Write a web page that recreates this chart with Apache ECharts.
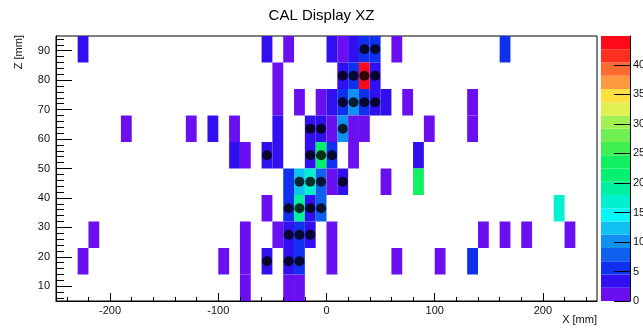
<!DOCTYPE html>
<html>
<head>
<meta charset="utf-8">
<script src="https://cdn.jsdelivr.net/npm/echarts@6/dist/echarts.min.js"></script>
<style>
	html, body { margin: 0; padding: 0; background: #fff; }
	#chart { width: 643px; height: 329px; }
</style>
</head>
<body>
<div id="chart"></div>
<script>
// histogram binning (mm)
const binW = 10;
const binH = 9;
const zMax = 44.9;

// lower edges of the filled bins and their content
const cellX = [
	-230, -60, -40, 0, 10, 20, 30, 40, 60, 160,
	-50, 10, 20, 30, 40,
	-50, -30, -10, 0, 10, 20, 30, 40, 50, 70, 130,
	-190, -130, -110, -90, -50, -20, -10, 0, 10, 20, 30, 90, 130,
	-90, -80, -60, -50, -20, -10, 0, 20, 80,
	-40, -30, -20, -10, 0, 10, 50, 80,
	-60, -40, -30, -20, -10, 210,
	-220, -80, -50, -40, -30, -20, 0, 140, 160, 180, 220,
	-230, -100, -80, -60, -40, -30, 0, 60, 100, 130,
	-80, -40, -30
];
const cellZ = [
	86, 86, 86, 86, 86, 86, 86, 86, 86, 86,
	77, 77, 77, 77, 77,
	68, 68, 68, 68, 68, 68, 68, 68, 68, 68, 68,
	59, 59, 59, 59, 59, 59, 59, 59, 59, 59, 59, 59, 59,
	50, 50, 50, 50, 50, 50, 50, 50, 50,
	41, 41, 41, 41, 41, 41, 41, 41,
	32, 32, 32, 32, 32, 32,
	23, 23, 23, 23, 23, 23, 23, 23, 23, 23, 23,
	14, 14, 14, 14, 14, 14, 14, 14, 14, 14,
	5, 5, 5
];
const cellVal = [
	3, 3, 1, 3, 1, 3, 5.5, 5.5, 1, 5.5,
	1, 3, 5.5, 44.9, 3,
	1, 1, 1, 3, 5.5, 10, 5.5, 3, 3, 1, 1,
	1, 1, 3, 1, 3, 3, 3, 1, 10, 1, 1, 1, 1,
	3, 1, 3, 3, 3, 21, 5.5, 1, 3,
	5.5, 12.5, 17, 7.5, 1, 3, 1, 23,
	1, 5.5, 19, 3, 7, 16,
	1, 1, 1, 3, 5.5, 3, 1, 1, 1, 1, 1,
	1, 1, 1, 3, 4, 6, 1, 1, 1, 5.5,
	1, 1, 1
];

// reconstructed hits (black markers)
const hitX = [
	35, 45,
	15, 25, 35, 45,
	15, 25, 35, 45,
	-15, -5, 15,
	-55, -15, -5, 5,
	-25, -15, -5, 15,
	-35, -25, -15, -5,
	-35, -25, -15,
	-55, -35, -25
];
const hitZ = [
	90.5, 90.5,
	81.5, 81.5, 81.5, 81.5,
	72.5, 72.5, 72.5, 72.5,
	63.5, 63.5, 63.5,
	54.5, 54.5, 54.5, 54.5,
	45.5, 45.5, 45.5, 45.5,
	36.5, 36.5, 36.5, 36.5,
	27.5, 27.5, 27.5,
	18.5, 18.5, 18.5
];

// ticks
const xMajor = [-200, -100, 0, 100, 200];
const xMinor = [-240, -220, -180, -160, -140, -120, -80, -60, -40, -20, 20, 40, 60, 80, 120, 140, 160, 180, 220, 240];
const zMajor = [10, 20, 30, 40, 50, 60, 70, 80, 90];
const zMinor = [6, 8, 12, 14, 16, 18, 22, 24, 26, 28, 32, 34, 36, 38, 42, 44, 46, 48, 52, 54, 56, 58,
	62, 64, 66, 68, 72, 74, 76, 78, 82, 84, 86, 88, 92, 94];
const palTicks = [0, 5, 10, 15, 20, 25, 30, 35, 40];

// colour palette, 20 contours, bottom to top
const palette = [
	'#6a10f0', '#3010f0', '#1030f0', '#1060f0', '#1090f0', '#10c0f0', '#00f8f8', '#00f0d0', '#00f0a0', '#00f070',
	'#10f060', '#40f050', '#70f050', '#a0f050', '#e0f050', '#ffe040', '#ff9a40', '#ff6a30', '#ff3020', '#ff0a1a'
];

const font = 'Liberation Sans, Arial, Helvetica, sans-serif';
const step = zMax / palette.length;

let pieces = palette.map((c, k) => {
	return k === palette.length - 1
		? { gte: k * step, lte: zMax, color: c }
		: { gte: k * step, lt: (k + 1) * step, color: c };
});
let bands = palette.map((c, k) => [k * step, (k + 1) * step, k]);

let labelStyle = { fontFamily: font, fontSize: 11, color: '#111' };
let black = { color: '#000', width: 1 };

// one axis with major ticks + labels, one with minor ticks only
const valueAxis = (grid, min, max, pos, ticks, len, labels, margin) => ({
	gridIndex: grid, type: 'value', min: min, max: max, position: pos, z: 10,
	axisLine: { show: labels, onZero: false, lineStyle: black },
	axisTick: { show: true, inside: true, length: len, customValues: ticks, lineStyle: black },
	axisLabel: labels ? Object.assign({ show: true, customValues: ticks, margin: margin }, labelStyle) : { show: false },
	minorTick: { show: false },
	splitLine: { show: false }
});

const chart = echarts.init(document.getElementById('chart'));

chart.setOption({
	animation: false,
	backgroundColor: '#fff',
	title: {
		text: 'CAL Display XZ',
		left: 'center',
		top: 3,
		textStyle: { fontFamily: font, fontSize: 15, fontWeight: 'normal', color: '#000' }
	},
	grid: [
		{ left: 56, right: 46, top: 36, bottom: 28, show: true, borderColor: '#000', borderWidth: 1, outerBoundsMode: 'none' },
		{ left: 601, width: 29, top: 36, bottom: 28, outerBoundsMode: 'none' }
	],
	visualMap: {
		type: 'piecewise',
		show: false,
		seriesIndex: 0,
		dimension: 2,
		pieces: pieces
	},
	xAxis: [
		valueAxis(0, -250, 250, 'bottom', xMajor, 8, true, 4),
		valueAxis(0, -250, 250, 'bottom', xMinor, 4, false, 0),
		{ gridIndex: 1, type: 'value', min: 0, max: 1, show: false }
	],
	yAxis: [
		valueAxis(0, 5, 95, 'left', zMajor, 16, true, 6),
		valueAxis(0, 5, 95, 'left', zMinor, 8, false, 0),
		valueAxis(1, 0, zMax, 'right', palTicks, 16, true, 3)
	],
	graphic: [
		{
			type: 'text', x: 19, y: 35, rotation: Math.PI / 2,
			style: { text: 'Z [mm]', fontFamily: font, fontSize: 11, fill: '#111', textAlign: 'right', textVerticalAlign: 'middle' }
		},
		{
			type: 'text', x: 597, y: 320,
			style: { text: 'X [mm]', fontFamily: font, fontSize: 11, fill: '#111', textAlign: 'right', textVerticalAlign: 'middle' }
		}
	],
	series: [
		{
			type: 'custom',
			xAxisIndex: 0, yAxisIndex: 0,
			data: cellX.map((x, i) => [x, cellZ[i], cellVal[i]]),
			encode: { x: 0, y: 1 },
			renderItem: function (params, api) {
				let p0 = api.coord([api.value(0), api.value(1) + binH]);
				let p1 = api.coord([api.value(0) + binW, api.value(1)]);
				return {
					type: 'rect',
					shape: { x: p0[0], y: p0[1], width: p1[0] - p0[0], height: p1[1] - p0[1] },
					style: { fill: api.visual('color') }
				};
			}
		},
		{
			type: 'scatter',
			xAxisIndex: 0, yAxisIndex: 0,
			data: hitX.map((x, i) => [x, hitZ[i]]),
			symbol: 'circle',
			symbolSize: 10,
			itemStyle: { color: '#000' },
			z: 5
		},
		{
			type: 'custom',
			xAxisIndex: 2, yAxisIndex: 2,
			data: bands,
			encode: { x: -1, y: [0, 1] },
			renderItem: function (params, api) {
				let p0 = api.coord([0, api.value(1)]);
				let p1 = api.coord([1, api.value(0)]);
				return {
					type: 'rect',
					shape: { x: p0[0], y: p0[1], width: p1[0] - p0[0], height: p1[1] - p0[1] },
					style: { fill: palette[api.value(2)] }
				};
			}
		}
	]
});
</script>
</body>
</html>
